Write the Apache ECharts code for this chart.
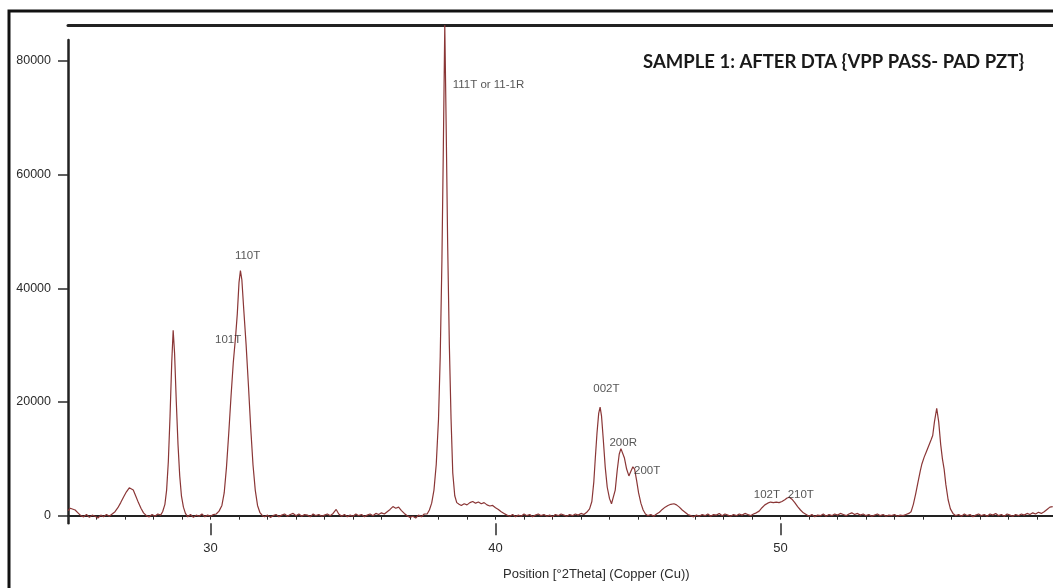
<!DOCTYPE html>
<html>
<head>
<meta charset="utf-8">
<script src="https://cdn.jsdelivr.net/npm/echarts@6/dist/echarts.min.js"></script>
<style>
  html, body { margin: 0; padding: 0; background: #ffffff; }
  #chart { width: 1053px; height: 588px; }
</style>
</head>
<body>
<div id="chart"></div>
<script>
// XRD scan, Cu K-alpha: [position in degrees 2-theta, counts]
const scanLowAngle = [
  [25.0,900],[25.08,1300],[25.15,1500],[25.25,1000],[25.35,500],[25.45,0],[25.55,-200],[25.65,200],
  [25.75,-300],[25.85,100],[25.95,-100],[26.05,-400],[26.15,100],[26.25,-200],[26.35,200],[26.45,-100],
  [26.55,300],[26.65,700],[26.75,1400],[26.85,2300],[26.95,3300],[27.05,4200],[27.15,4900],[27.22,5100],
  [27.29,4500],[27.38,3400],[27.47,2300],[27.56,1300],[27.65,500],[27.75,0],[27.85,-200],[27.95,200],
  [28.05,-100],[28.15,300],[28.25,100],[28.32,700]
];
const scanPeak287 = [
  [28.4,2000],[28.46,4500],[28.52,9500],[28.58,17500],[28.64,27000],[28.69,32600],[28.74,28500],[28.8,20000],
  [28.86,12500],[28.92,7000],[28.98,3500],[29.05,1500],[29.12,400],[29.2,-200],[29.3,200],[29.4,-300],
  [29.5,100],[29.6,-100],[29.7,300],[29.8,-200],[29.9,100],[30.0,-100],[30.1,200],[30.2,300]
];
const scanPeak110 = [
  [30.3,800],[30.4,1800],[30.48,4000],[30.56,8500],[30.64,14500],[30.72,21000],[30.8,27000],[30.88,31500],
  [30.94,35500],[31.0,41000],[31.05,43100],[31.1,41500],[31.17,36000],[31.25,30000],[31.33,23000],[31.41,15500],
  [31.49,9000],[31.57,4500],[31.65,1800],[31.73,600],[31.82,0]
];
const scanMidBackground = [
  [31.9,-200],[32.0,100],[32.1,-300],[32.2,0],[32.3,200],[32.4,-200],[32.5,100],[32.6,300],[32.7,-100],
  [32.8,200],[32.9,400],[33.0,0],[33.1,300],[33.2,-100],[33.3,200],[33.4,100],[33.5,-200],[33.6,300],
  [33.7,0],[33.8,200],[33.9,-100],[34.0,100],[34.1,300],[34.2,0],[34.3,400],[34.41,1100],[34.5,300],
  [34.6,-100],[34.7,200],[34.8,-200],[34.9,100],[35.0,-100],[35.1,300],[35.2,0],[35.3,200],[35.4,-200],
  [35.5,100],[35.6,300],[35.7,0],[35.8,400],[35.9,200],[36.0,500],[36.1,300],[36.2,700],[36.3,1100],
  [36.4,1600],[36.5,1300],[36.6,1500],[36.7,900],[36.8,400],[36.9,0],[37.0,-300],[37.1,-100],[37.2,-400],
  [37.3,100],[37.4,-200],[37.5,300]
];
const scanPeak111 = [
  [37.6,300],[37.68,1000],[37.76,2200],[37.84,4500],[37.92,9000],[38.0,17000],[38.06,28000],[38.12,45000],
  [38.17,65000],[38.22,86300],[38.27,68000],[38.32,48000],[38.38,30000],[38.44,17000],[38.5,7500],[38.57,3500],
  [38.64,2300],[38.72,2000],[38.8,1800],[38.9,2100],[39.0,1900],[39.1,2300],[39.2,2500],[39.3,2200],
  [39.4,2400],[39.5,2100],[39.6,2300],[39.7,1900],[39.8,1700],[39.9,1800],[40.0,1400],[40.1,1100],
  [40.2,700],[40.3,400],[40.4,100],[40.5,-100],[40.6,200],[40.7,-200],[40.8,100],[40.9,-100],[41.0,300],
  [41.1,0],[41.2,200],[41.3,-200],[41.4,100],[41.5,300],[41.6,0],[41.7,200],[41.8,-100],[41.9,100],
  [42.0,-200],[42.1,200],[42.2,0],[42.3,300],[42.4,100],[42.5,-100],[42.6,200],[42.7,0],[42.8,300],
  [42.9,100],[43.0,400],[43.1,200],[43.2,600]
];
const scanPeaks200 = [
  [43.3,1200],[43.38,2500],[43.45,6000],[43.5,10000],[43.56,14500],[43.62,18000],[43.67,19100],[43.72,17500],
  [43.78,13500],[43.85,8500],[43.92,5000],[44.0,3000],[44.07,2100],[44.13,2300],[44.2,4500],[44.27,8000],
  [44.34,10800],[44.4,11800],[44.45,11700],[44.52,10200],[44.6,8200],[44.68,7000],[44.75,7800],[44.82,8600],
  [44.88,8200],[44.95,6200],[45.02,4000],[45.1,2200],[45.18,1000],[45.26,300],[45.35,0],[45.45,200],
  [45.55,-100],[45.65,300],[45.75,600],[45.85,1100],[45.95,1500],[46.05,1800],[46.15,2000],[46.26,2100],
  [46.35,1900],[46.45,1500],[46.55,1000],[46.65,600],[46.75,200],[46.85,0],[46.95,-200],[47.05,100],
  [47.15,-100],[47.25,200],[47.35,0],[47.45,300],[47.55,-100],[47.65,200],[47.75,100],[47.85,400],
  [47.95,0],[48.05,300],[48.15,100],[48.25,-100],[48.35,200],[48.45,0],[48.55,300],[48.65,100],
  [48.75,400],[48.85,200],[48.95,0],[49.05,300],[49.15,500]
];
const scanPeaks102 = [
  [49.25,800],[49.35,1400],[49.45,1900],[49.55,2200],[49.65,2400],[49.75,2300],[49.85,2400],[49.95,2300],
  [50.05,2500],[50.15,2800],[50.23,3100],[50.31,3250],[50.4,2900],[50.5,2300],[50.6,1600],[50.7,1000],
  [50.8,500],[50.9,200],[51.0,-100],[51.1,200],[51.2,-200],[51.3,100],[51.4,0],[51.5,300],[51.6,-100],
  [51.7,200],[51.8,0],[51.9,300],[52.0,100],[52.1,400],[52.2,200],[52.3,0],[52.4,300],[52.5,500],
  [52.6,200],[52.7,400],[52.8,100],[52.9,300],[53.0,0],[53.1,200],[53.2,-100],[53.3,100],[53.4,300],
  [53.5,0],[53.6,200],[53.7,-100],[53.8,100],[53.9,0],[54.0,200],[54.1,-100],[54.2,100],[54.3,0],
  [54.4,200],[54.5,400]
];
const scanHighAngle = [
  [54.58,700],[54.66,2000],[54.74,3800],[54.82,5800],[54.9,7800],[54.96,9100],[55.04,10300],[55.12,11300],
  [55.2,12300],[55.28,13300],[55.34,14100],[55.4,16500],[55.48,18900],[55.55,16500],[55.62,12500],[55.68,10000],
  [55.74,8200],[55.8,5500],[55.88,2800],[55.96,1200],[56.05,400],[56.15,0],[56.25,200],[56.35,-100],
  [56.45,300],[56.55,0],[56.65,200],[56.75,-200],[56.85,100],[56.95,300],[57.05,0],[57.15,200],
  [57.25,-100],[57.35,300],[57.45,100],[57.55,400],[57.65,0],[57.75,200],[57.85,-100],[57.95,300],
  [58.05,100],[58.15,-100],[58.25,200],[58.35,0],[58.45,300],[58.55,100],[58.65,400],[58.75,200],
  [58.85,500],[58.95,300],[59.05,600],[59.15,400],[59.25,700],[59.35,1100],[59.45,1500],[59.55,1600]
];

// reflection labels: [text, 2-theta, counts]
const peakLabels = [
  ['111T or 11-1R', 38.48, 75800],
  ['110T', 31.30, 45700],
  ['101T', 30.62, 30900],
  ['002T', 43.89, 22400],
  ['200R', 44.48, 12800],
  ['200T', 45.32, 7900],
  ['102T', 49.52, 3650],
  ['210T', 50.71, 3650]
];

const yTicks = [0, 20000, 40000, 60000, 80000];
const xMajorTicks = [30, 40, 50];
const chartTitle = 'SAMPLE 1: AFTER DTA {VPP PASS- PAD PZT}';
const xAxisTitle = 'Position [\u00B02Theta] (Copper (Cu))';

const scan = [].concat(scanLowAngle, scanPeak287, scanPeak110, scanMidBackground,
  scanPeak111, scanPeaks200, scanPeaks102, scanHighAngle);

const sans = '"Liberation Sans", Arial, sans-serif';
const axisInk = '#222';
const textInk = '#2b2b2b';

const chart = echarts.init(document.getElementById('chart'), null, { renderer: 'canvas' });

// the scan window runs off the right edge of the page
const xRange = { type: 'value', min: 25, max: 59.56, splitLine: { show: false } };

chart.setOption({
  animation: false,
  backgroundColor: '#ffffff',
  title: {
    text: chartTitle,
    left: 638,
    top: 48,
    textStyle: { fontFamily: 'Lato', fontWeight: 'bold', fontSize: 18.5, color: '#1a1a1a' }
  },
  grid: { left: 68, top: 40, right: 0, height: 483.3 },
  xAxis: [
    Object.assign({}, xRange, {
      position: 'bottom',
      interval: 1,
      axisLine: { show: true, lineStyle: { color: axisInk, width: 2 } },
      axisTick: { show: true, length: 4, lineStyle: { color: textInk, width: 1 } },
      axisLabel: { show: false }
    }),
    Object.assign({}, xRange, {
      position: 'bottom',
      axisLine: { show: false },
      axisTick: { show: true, customValues: xMajorTicks, length: 12, lineStyle: { color: textInk, width: 1.5 } },
      axisLabel: { show: true, customValues: xMajorTicks, margin: 19, fontFamily: sans, fontSize: 13, color: textInk }
    }),
    Object.assign({}, xRange, {
      position: 'top',
      offset: 15,
      axisLine: { show: true, lineStyle: { color: axisInk, width: 3 } },
      axisTick: { show: false },
      axisLabel: { show: false }
    })
  ],
  yAxis: {
    type: 'value',
    min: -1340,
    max: 83670,
    splitLine: { show: false },
    axisLine: { show: true, lineStyle: { color: axisInk, width: 2.5 } },
    axisTick: { show: true, customValues: yTicks, length: 10, lineStyle: { color: textInk, width: 1.5 } },
    axisLabel: {
      show: true,
      customValues: yTicks,
      margin: 17,
      fontFamily: sans,
      fontSize: 12.5,
      color: textInk,
      formatter: function (v) { return String(v); }
    }
  },
  graphic: [
    {
      type: 'rect',
      shape: { x: 9, y: 11, width: 1100, height: 640 },
      style: { fill: 'none', stroke: '#111', lineWidth: 3 },
      silent: true
    },
    {
      type: 'text',
      left: 503,
      top: 568,
      style: { text: xAxisTitle, fontFamily: sans, fontSize: 13, fill: textInk }
    }
  ],
  series: [
    {
      type: 'line',
      data: scan,
      xAxisIndex: 0,
      showSymbol: false,
      symbol: 'none',
      clip: false,
      lineStyle: { color: '#8a3636', width: 1.2 },
      z: 3
    },
    {
      type: 'scatter',
      xAxisIndex: 0,
      symbolSize: 1,
      itemStyle: { color: 'rgba(0,0,0,0)' },
      z: 4,
      data: peakLabels.map(function (p, i) {
        return {
          name: p[0],
          value: [p[1], p[2]],
          label: i === 0
            ? { show: true, position: 'right', distance: 0 }
            : { show: true, position: 'inside' }
        };
      }),
      label: { formatter: '{b}', fontFamily: sans, fontSize: 11.5, color: textInk }
    }
  ]
});
</script>
</body>
</html>
